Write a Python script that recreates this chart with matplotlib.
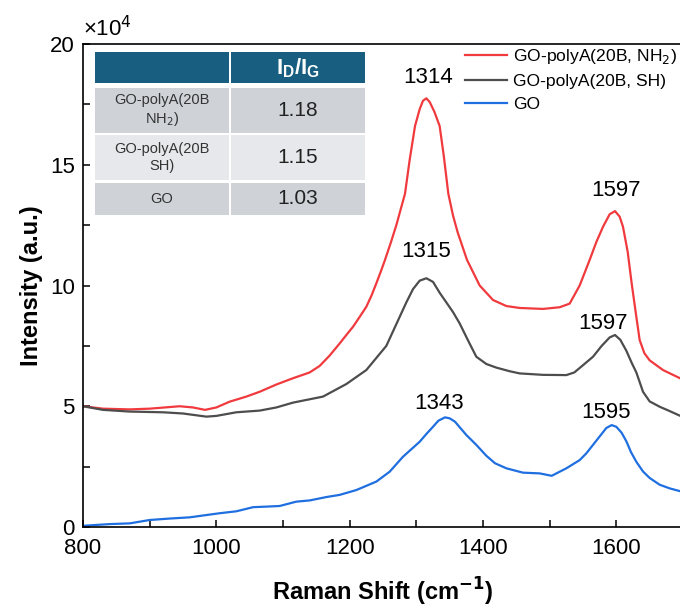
import matplotlib.pyplot as plt
from matplotlib.patches import Rectangle
from matplotlib.ticker import MultipleLocator

plt.rcParams['font.family'] = ['Liberation Sans', 'DejaVu Sans']

# Raman spectra, intensity in units of 1e4
x_nh2 = [800, 830, 870, 900, 945, 965, 983, 1000, 1020, 1045, 1065, 1090, 1115, 1140, 1155,
         1170, 1185, 1195, 1205, 1215, 1225, 1233, 1240, 1247, 1253, 1262, 1270, 1276, 1283,
         1290, 1298, 1305, 1310, 1315, 1320, 1327, 1335, 1341, 1348, 1355, 1362, 1376, 1395,
         1415, 1435, 1455, 1490, 1515, 1530, 1545, 1560, 1570, 1580, 1590, 1598, 1605, 1610,
         1617, 1623, 1629, 1635, 1642, 1650, 1670, 1700]
y_nh2 = [5.0, 4.9, 4.87, 4.9, 5.0, 4.95, 4.85, 4.95, 5.19, 5.4, 5.6, 5.9, 6.16, 6.4, 6.67,
         7.1, 7.6, 7.95, 8.29, 8.7, 9.12, 9.6, 10.09, 10.6, 11.06, 11.8, 12.5, 13.1, 13.8,
         15.2, 16.6, 17.3, 17.65, 17.75, 17.6, 17.2, 16.6, 15.4, 13.8, 12.9, 12.2, 11.06, 10.0,
         9.4, 9.15, 9.07, 9.03, 9.1, 9.25, 10.0, 11.06, 11.8, 12.43, 12.95, 13.08, 12.85, 12.43,
         11.4, 10.09, 8.9, 7.74, 7.2, 6.9, 6.5, 6.1]

x_sh = [800, 830, 870, 920, 950, 985, 1000, 1030, 1065, 1090, 1115, 1160, 1195, 1225, 1255,
        1265, 1275, 1285, 1295, 1305, 1315, 1325, 1335, 1345, 1355, 1365, 1378, 1390, 1405,
        1420, 1440, 1455, 1490, 1525, 1537, 1550, 1565, 1578, 1590, 1598, 1606, 1615, 1623,
        1630, 1640, 1650, 1665, 1680, 1700]
y_sh = [5.0, 4.85, 4.78, 4.75, 4.7, 4.57, 4.6, 4.75, 4.82, 4.95, 5.15, 5.4, 5.92, 6.5, 7.5,
        8.1, 8.7, 9.3, 9.85, 10.2, 10.3, 10.15, 9.7, 9.3, 8.9, 8.43, 7.7, 7.05, 6.75,
        6.6, 6.45, 6.36, 6.3, 6.29, 6.4, 6.7, 7.05, 7.5, 7.85, 7.95, 7.75, 7.3, 6.8,
        6.4, 5.6, 5.2, 4.98, 4.8, 4.55]

x_go = [800, 840, 870, 900, 930, 960, 1005, 1030, 1055, 1080, 1095, 1120, 1140, 1165, 1185,
        1210, 1240, 1260, 1280, 1305, 1315, 1325, 1333, 1343, 1350, 1358, 1366, 1375, 1390,
        1405, 1418, 1435, 1460, 1485, 1503, 1525, 1545, 1555, 1565, 1575, 1585, 1593, 1600,
        1608, 1615, 1622, 1630, 1640, 1650, 1665, 1680, 1700]
y_go = [0.05, 0.12, 0.15, 0.29, 0.35, 0.4, 0.57, 0.65, 0.82, 0.85, 0.87, 1.05, 1.1, 1.24, 1.33,
        1.53, 1.88, 2.29, 2.91, 3.53, 3.85, 4.15, 4.4, 4.54, 4.5, 4.36, 4.1, 3.81, 3.4,
        2.95, 2.64, 2.43, 2.25, 2.22, 2.12, 2.43, 2.77, 3.05, 3.4, 3.75, 4.1, 4.22, 4.15,
        3.9, 3.55, 3.1, 2.7, 2.3, 2.03, 1.75, 1.6, 1.45]

peak_labels = ['1314', '1597', '1315', '1597', '1343', '1595']
peak_x = [1315, 1598, 1315, 1598, 1343, 1593]
peak_y = [17.75, 13.08, 10.3, 7.95, 4.54, 4.22]
label_shift = [(1, 15), (1, 15), (0, 19), (-9, 8), (-4, 10), (-4, 9)]  # points

table_rows = ['GO-polyA(20B\nNH$_2$)', 'GO-polyA(20B\nSH)', 'GO']
table_vals = ['1.18', '1.15', '1.03']

fig = plt.figure(figsize=(6.8, 6.09), dpi=100)
ax = fig.add_axes([83 / 680, 82 / 609, 600 / 680, 483 / 609])

ax.plot(x_nh2, y_nh2, color='#f03a3e', lw=1.6, label='GO-polyA(20B, NH$_2$)')
ax.plot(x_sh, y_sh, color='#4d4d4d', lw=1.6, label='GO-polyA(20B, SH)')
ax.plot(x_go, y_go, color='#1f6fe0', lw=1.6, label='GO')

for lab, px, py, d in zip(peak_labels, peak_x, peak_y, label_shift):
    ax.annotate(lab, (px, py), xytext=d, textcoords='offset points',
                ha='center', va='center', fontsize=16)

ax.set_xlim(800, 1700)
ax.set_ylim(0, 20)
ax.xaxis.set_major_locator(MultipleLocator(200))
ax.xaxis.set_minor_locator(MultipleLocator(100))
ax.yaxis.set_major_locator(MultipleLocator(5))
ax.yaxis.set_minor_locator(MultipleLocator(2.5))
ax.tick_params(which='both', direction='in', length=5, width=1.1, labelsize=16)
ax.tick_params(axis='x', pad=8)
ax.tick_params(axis='y', pad=6)
for s in ax.spines.values():
    s.set_linewidth(1.2)

ax.set_xlabel('Raman Shift (cm$^{\\mathbf{-1}}$)', fontsize=17, fontweight='bold', labelpad=12)
ax.set_ylabel('Intensity (a.u.)', fontsize=17, fontweight='bold', labelpad=5)
ax.text(0.0, 1.005, '×10$^4$', transform=ax.transAxes, fontsize=16, ha='left', va='bottom')

ax.legend(loc='upper left', bbox_to_anchor=(0.625, 1.008), frameon=False, fontsize=12.6,
          handlelength=2.4, handletextpad=0.35, labelspacing=0.45, borderaxespad=0)

# inset table drawn in pixel-based axes fractions
def fx(p):
    return (p - 83) / 600

def fy(p):
    return (527 - p) / 483

cols = [(95, 229), (231, 365)]
header = (52, 83)
rows = [(88, 133), (135, 180), (183, 215)]
row_colors = ['#cfd3d8', '#e6e8eb', '#cfd3d8']
for c0, c1 in cols:
    ax.add_patch(Rectangle((fx(c0), fy(header[1])), fx(c1) - fx(c0), fy(header[0]) - fy(header[1]),
                           transform=ax.transAxes, facecolor='#175e80', edgecolor='none', zorder=5))
ax.text(fx(298), fy(68), 'I$_\\mathregular{D}$/I$_\\mathregular{G}$', transform=ax.transAxes,
        ha='center', va='center', color='white', fontsize=16, fontweight='bold', zorder=6)
for (r0, r1), rc, lab, val in zip(rows, row_colors, table_rows, table_vals):
    for c0, c1 in cols:
        ax.add_patch(Rectangle((fx(c0), fy(r1)), fx(c1) - fx(c0), fy(r0) - fy(r1),
                               transform=ax.transAxes, facecolor=rc, edgecolor='none', zorder=5))
    ym = fy((r0 + r1) / 2)
    ax.text(fx(162), ym, lab, transform=ax.transAxes, ha='center', va='center',
            fontsize=10.5, color='#333333', zorder=6, linespacing=1.25)
    ax.text(fx(298), ym, val, transform=ax.transAxes, ha='center', va='center',
            fontsize=15, color='#222222', zorder=6)

fig.savefig('out.png', dpi=100)
